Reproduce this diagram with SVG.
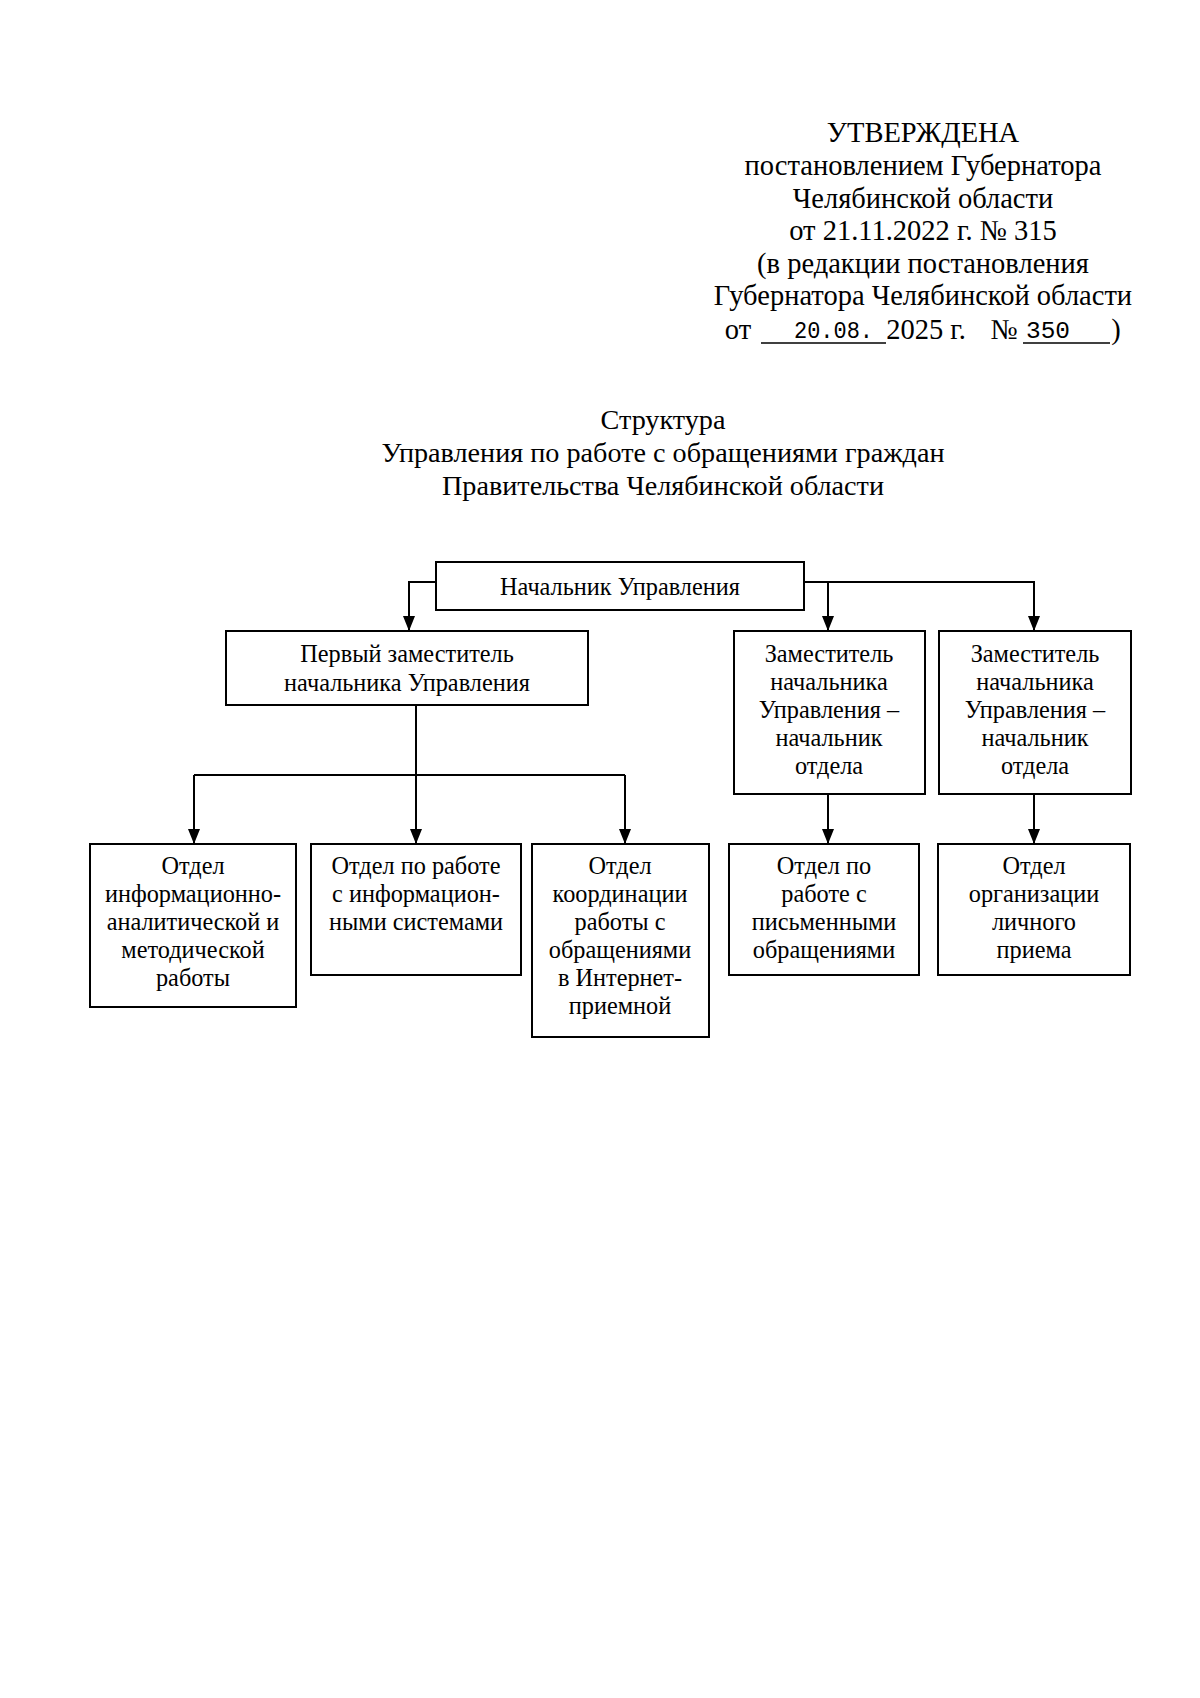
<svg xmlns="http://www.w3.org/2000/svg" width="1200" height="1698" viewBox="0 0 1200 1698">
<style>
text{font-family:"Liberation Serif","Times New Roman",serif;fill:#000;text-anchor:middle}
.h{font-size:28.5px}
.t{font-size:28.2px}
.n{font-size:24.3px}
.m{font-family:"Liberation Mono","Courier New",monospace;font-size:24px;text-anchor:start}
.box{fill:#fff;stroke:#000;stroke-width:2}
.c{fill:none;stroke:#000;stroke-width:2}
.u{stroke:#000;stroke-width:1.5}
</style>
<defs>
<marker id="ar" markerUnits="userSpaceOnUse" markerWidth="15" markerHeight="12" viewBox="0 0 15 12" refX="15" refY="6" orient="auto">
<path d="M0 0 L15 6 L0 12 Z" fill="#000"/>
</marker>
</defs>
<rect width="1200" height="1698" fill="#fff"/>
<g id="header">
<text class="h" x="923" y="142">УТВЕРЖДЕНА</text>
<text class="h" x="923" y="175">постановлением Губернатора</text>
<text class="h" x="923" y="208">Челябинской области</text>
<text class="h" x="923" y="240">от 21.11.2022 г. № 315</text>
<text class="h" x="923" y="273">(в редакции постановления</text>
<text class="h" x="923" y="305">Губернатора Челябинской области</text>
<text class="h" x="738" y="339">от</text>
<line class="u" x1="761" y1="343" x2="886" y2="343"/>
<text class="m" x="794" y="338" textLength="79" lengthAdjust="spacingAndGlyphs">20.08.</text>
<text class="h" x="926" y="339">2025 г.</text>
<text class="h" x="1004" y="339">№</text>
<line class="u" x1="1023" y1="343" x2="1110" y2="343"/>
<text class="m" x="1026" y="338" textLength="44" lengthAdjust="spacingAndGlyphs">350</text>
<text class="h" x="1116" y="339">)</text>
</g>
<g id="title">
<text class="t" x="663" y="429">Структура</text>
<text class="t" x="663" y="462">Управления по работе с обращениями граждан</text>
<text class="t" x="663" y="495">Правительства Челябинской области</text>
</g>
<g id="connectors">
<path class="c" d="M436 582 H409 V631" marker-end="url(#ar)"/>
<path class="c" d="M804 582 H1034 V631" marker-end="url(#ar)"/>
<path class="c" d="M828 582 V631" marker-end="url(#ar)"/>
<path class="c" d="M416 705 V844" marker-end="url(#ar)"/>
<path class="c" d="M194 775 H625"/>
<path class="c" d="M194 775 V844" marker-end="url(#ar)"/>
<path class="c" d="M625 775 V844" marker-end="url(#ar)"/>
<path class="c" d="M828 794 V844" marker-end="url(#ar)"/>
<path class="c" d="M1034 794 V844" marker-end="url(#ar)"/>
</g>
<g id="head">
<rect class="box" x="436" y="562" width="368" height="48"/>
<text class="n" x="620" y="595">Начальник Управления</text>
</g>
<g id="first-deputy">
<rect class="box" x="226" y="631" width="362" height="74"/>
<text class="n" x="407" y="662">Первый заместитель</text>
<text class="n" x="407" y="691">начальника Управления</text>
</g>
<g id="deputy-1">
<rect class="box" x="734" y="631" width="191" height="163"/>
<text class="n" x="829" y="662">Заместитель</text>
<text class="n" x="829" y="690">начальника</text>
<text class="n" x="829" y="718">Управления –</text>
<text class="n" x="829" y="746">начальник</text>
<text class="n" x="829" y="774">отдела</text>
</g>
<g id="deputy-2">
<rect class="box" x="939" y="631" width="192" height="163"/>
<text class="n" x="1035" y="662">Заместитель</text>
<text class="n" x="1035" y="690">начальника</text>
<text class="n" x="1035" y="718">Управления –</text>
<text class="n" x="1035" y="746">начальник</text>
<text class="n" x="1035" y="774">отдела</text>
</g>
<g id="dept-1">
<rect class="box" x="90" y="844" width="206" height="163"/>
<text class="n" x="193" y="874">Отдел</text>
<text class="n" x="193" y="902">информационно-</text>
<text class="n" x="193" y="930">аналитической и</text>
<text class="n" x="193" y="958">методической</text>
<text class="n" x="193" y="986">работы</text>
</g>
<g id="dept-2">
<rect class="box" x="311" y="844" width="210" height="131"/>
<text class="n" x="416" y="874">Отдел по работе</text>
<text class="n" x="416" y="902">с информацион-</text>
<text class="n" x="416" y="930">ными системами</text>
</g>
<g id="dept-3">
<rect class="box" x="532" y="844" width="177" height="193"/>
<text class="n" x="620" y="874">Отдел</text>
<text class="n" x="620" y="902">координации</text>
<text class="n" x="620" y="930">работы с</text>
<text class="n" x="620" y="958">обращениями</text>
<text class="n" x="620" y="986">в Интернет-</text>
<text class="n" x="620" y="1014">приемной</text>
</g>
<g id="dept-4">
<rect class="box" x="729" y="844" width="190" height="131"/>
<text class="n" x="824" y="874">Отдел по</text>
<text class="n" x="824" y="902">работе с</text>
<text class="n" x="824" y="930">письменными</text>
<text class="n" x="824" y="958">обращениями</text>
</g>
<g id="dept-5">
<rect class="box" x="938" y="844" width="192" height="131"/>
<text class="n" x="1034" y="874">Отдел</text>
<text class="n" x="1034" y="902">организации</text>
<text class="n" x="1034" y="930">личного</text>
<text class="n" x="1034" y="958">приема</text>
</g>
</svg>
